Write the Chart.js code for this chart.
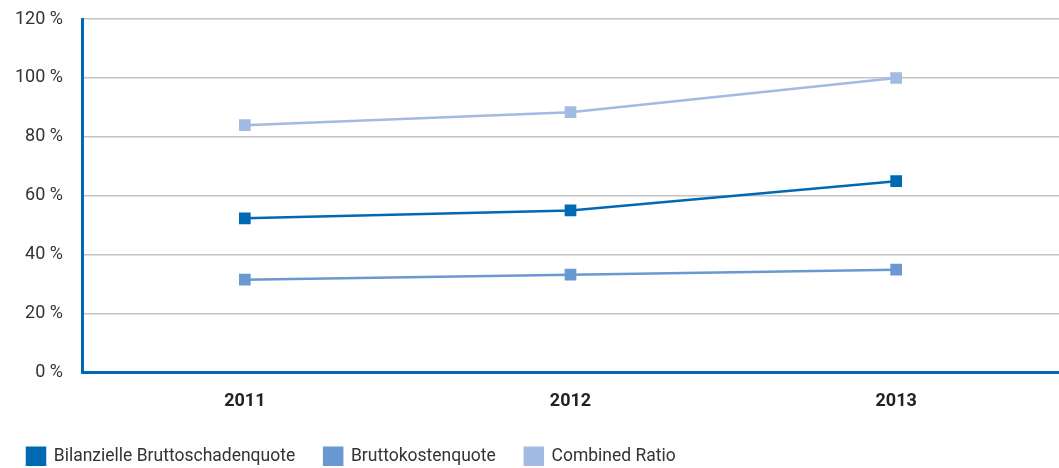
<!DOCTYPE html>
<html>
<head>
<meta charset="utf-8">
<script src="https://cdn.jsdelivr.net/npm/chart.js@4.4.1/dist/chart.umd.min.js"></script>
<style>
  html, body { margin: 0; padding: 0; background: #fff; overflow: hidden; }
  #wrap { width: 1059px; height: 468px; position: relative; }
</style>
</head>
<body>
<div id="wrap"><canvas id="quoten"></canvas></div>
<script>
// Jahre und Quoten in Prozent
const jahre = ['2011', '2012', '2013'];
const schadenquote = [52.4, 55.1, 65.0];
const kostenquote = [31.6, 33.3, 35.0];
const combinedRatio = [84.0, 88.4, 100.0];
const yTicks = [0, 20, 40, 60, 80, 100, 120];

const schrift = "Roboto, 'Open Sans', sans-serif";

function serie(label, werte, farbe) {
    return {
        label: label,
        data: werte,
        borderColor: farbe,
        backgroundColor: farbe,
        borderWidth: 2.5,
        pointStyle: 'rect',
        pointRadius: 6.5,
        pointHoverRadius: 6.5,
        tension: 0
    };
}

new Chart(document.getElementById('quoten'), {
    type: 'line',
    data: {
        labels: jahre,
        datasets: [
            serie('Bilanzielle Bruttoschadenquote', schadenquote, '#0069b4'),
            serie('Bruttokostenquote', kostenquote, '#6a98d0'),
            serie('Combined Ratio', combinedRatio, '#a2bbe2')
        ]
    },
    options: {
        responsive: true,
        maintainAspectRatio: false,
        animation: false,
        layout: {
            autoPadding: false,
            padding: { top: 19, left: -2, right: -15, bottom: -7 }
        },
        plugins: {
            tooltip: { enabled: false },
            legend: {
                position: 'bottom',
                align: 'start',
                labels: {
                    boxWidth: 18,
                    boxHeight: 17,
                    padding: 29,
                    color: '#333',
                    font: { family: schrift, size: 17.5 }
                }
            }
        },
        scales: {
            x: {
                offset: true,
                grid: { display: false, drawTicks: false },
                border: { color: '#0069b4', width: 3 },
                afterFit: function (axis) {
                    axis.height -= 12;
                    axis.paddingRight = 0;
                    axis.paddingLeft = 0;
                },
                ticks: {
                    color: '#222',
                    padding: 18,
                    font: { family: schrift, size: 18, weight: 'bold' }
                }
            },
            y: {
                min: 0,
                max: 120,
                afterBuildTicks: function (axis) {
                    axis.ticks = yTicks.map(v => ({ value: v }));
                },
                afterFit: function (axis) {
                    axis.width = 84;
                    axis.paddingTop = 0;
                    axis.paddingBottom = 0;
                },
                grid: { color: '#c4c4c4', lineWidth: 1.5, drawTicks: false },
                border: { color: '#0069b4', width: 3 },
                ticks: {
                    color: '#333',
                    padding: 19,
                    font: { family: schrift, size: 18 },
                    callback: v => v + ' %'
                }
            }
        }
    }
});
</script>
</body>
</html>
